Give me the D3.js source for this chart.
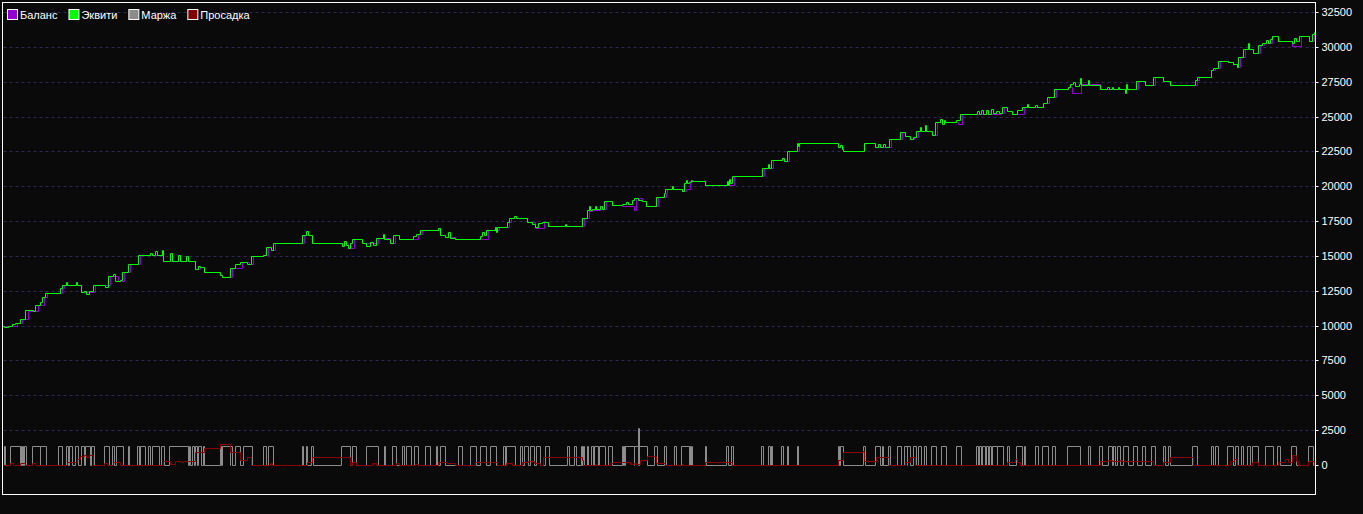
<!DOCTYPE html>
<html>
<head>
<meta charset="utf-8">
<script src="https://cdn.jsdelivr.net/npm/d3@7"></script>
<style>
    body { margin: 0; background: #0a0a0a; }
    text { font-family: "Liberation Sans", Arial, sans-serif; font-size: 11px; fill: #fff; }
</style>
</head>
<body>
<div id="chart"></div>
<script>
// series names for the legend
const seriesNames = ["Баланс", "Эквити", "Маржа", "Просадка"];

// y axis tick labels
const yTicks = [0, 2500, 5000, 7500, 10000, 12500, 15000, 17500, 20000, 22500, 25000, 27500, 30000, 32500];

// equity: [bar, value], step after
const equity = [
    [0,10000],[4,9900],[8,9950],[12,10100],[15,10190],[20,10470],[25,11120],[33,11050],[35,11480],[40,11700],
    [42,12050],[45,12340],[60,12700],[62,12910],[66,13100],[67,12910],[76,13130],[77,12910],[81,12410],[84,12500],
    [86,12300],[89,12450],[93,12910],[105,12800],[108,13560],[113,13700],[115,13200],[120,13300],[122,13850],[128,14420],
    [138,15070],[150,15200],[152,15070],[155,15350],[157,15070],[162,15420],[163,14630],[170,15200],[172,14630],[178,15100],
    [180,14630],[186,15000],[188,14630],[195,14060],[198,14300],[200,14200],[204,13850],[220,13630],[222,13490],[230,14130],
    [235,14400],[240,14560],[247,14420],[251,14990],[263,15070],[266,15640],[271,15420],[273,15930],[302,16500],[306,16790],
    [308,16500],[312,15930],[342,15700],[344,16100],[346,15800],[348,15600],[350,15900],[352,16210],[362,15930],[366,15700],
    [370,16000],[373,15800],[376,16280],[383,16570],[384,16210],[390,15930],[393,16500],[399,16210],[413,16400],[416,16600],
    [420,16860],[438,17000],[440,16500],[445,16360],[448,16700],[450,16300],[455,16210],[480,16400],[482,16700],[484,16500],
    [486,16860],[495,17100],[496,16700],[497,17070],[507,17430],[509,17720],[514,17850],[516,17720],[527,17430],[532,17300],
    [535,17100],[538,17350],[542,17430],[548,17150],[565,17300],[566,17150],[582,17720],[587,18300],[589,18600],[590,18300],
    [592,18400],[595,18600],[596,18400],[600,18550],[602,18350],[604,18940],[612,18650],[622,18720],[626,18900],[628,18700],
    [632,19000],[634,19150],[638,19000],[642,18940],[646,18580],[656,19230],[664,19510],[665,19800],[672,20020],[673,19800],
    [682,19660],[684,20230],[686,20450],[687,20230],[689,20300],[691,20450],[692,20370],[705,20090],[727,20400],[728,20100],
    [729,20500],[730,20200],[732,20730],[762,21310],[768,21600],[769,21310],[771,21880],[782,22020],[784,21810],[787,22530],
    [797,23100],[798,22900],[799,23100],[838,22810],[840,22950],[842,22700],[843,22530],[864,23100],[875,22810],[878,23000],
    [880,22810],[883,23050],[885,22810],[889,23390],[900,23890],[905,23600],[910,23390],[913,23530],[916,23960],[920,24270],
    [921,23960],[925,24400],[926,23960],[932,23700],[935,24610],[940,24800],[942,24450],[944,24750],[945,24610],[956,24750],
    [960,25180],[977,25400],[979,25180],[981,25500],[983,25200],[986,25450],[988,25180],[991,25550],[993,25250],[996,25400],
    [999,25250],[1002,25680],[1007,25400],[1012,25180],[1017,25470],[1022,25680],[1027,25900],[1028,25680],[1035,25850],[1037,25680],
    [1043,25970],[1047,26400],[1054,26970],[1068,27120],[1070,27330],[1073,27500],[1075,27200],[1079,27330],[1080,27800],[1081,27260],
    [1088,27600],[1089,27260],[1100,26970],[1107,27100],[1109,26970],[1112,27100],[1113,26970],[1118,27100],[1119,26970],[1125,26700],
    [1126,27300],[1127,26970],[1136,27550],[1145,27260],[1153,27830],[1163,27550],[1170,27260],[1195,27620],[1197,27830],[1211,28340],
    [1213,28480],[1218,28980],[1228,28910],[1233,28770],[1237,28550],[1238,29270],[1243,29840],[1248,30270],[1249,29840],[1253,29560],
    [1258,30130],[1262,30270],[1266,30500],[1268,30270],[1270,30560],[1272,30780],[1278,30420],[1292,30300],[1294,30600],[1296,30400],
    [1299,30780],[1309,30420],[1312,30920],[1314,31060]
];

// balance: [bar, value], step after
const balance = [
    [0,10000],[17,10190],[22,10470],[28,11050],[38,11480],[44,12050],[47,12340],[62,12700],[64,12910],[81,12410],
    [95,12910],[110,13560],[118,13200],[124,13850],[130,14420],[140,15070],[163,14630],[195,14060],[200,14200],[204,13850],
    [220,13630],[222,13490],[232,14130],[242,14560],[249,14420],[253,14990],[263,15070],[268,15640],[271,15420],[275,15930],
    [304,16500],[312,15930],[348,15600],[354,16210],[362,15930],[378,16280],[390,15930],[395,16500],[399,16210],[418,16600],
    [422,16860],[440,16500],[445,16360],[455,16210],[488,16860],[499,17070],[509,17430],[511,17720],[527,17430],[535,17000],
    [544,17430],[548,17150],[584,17720],[589,18200],[592,18300],[600,18350],[606,18940],[612,18650],[622,18550],[634,18300],
    [636,19150],[642,18940],[646,18580],[658,19230],[666,19510],[667,19800],[682,19660],[686,19800],[690,20370],[705,20090],
    [734,20730],[764,21310],[773,21880],[782,22020],[784,21810],[789,22530],[799,23100],[838,22810],[843,22530],[864,23100],
    [875,22810],[891,23390],[902,23890],[905,23600],[910,23390],[914,23530],[918,23960],[932,23700],[937,24610],[945,24610],
    [958,24450],[962,25180],[1000,25250],[1004,25680],[1007,25400],[1012,25180],[1024,25680],[1043,25970],[1049,26400],[1056,26970],
    [1068,27120],[1072,26690],[1081,27330],[1100,26970],[1138,27550],[1145,27260],[1155,27830],[1163,27550],[1170,27260],[1197,27620],
    [1199,27830],[1211,28340],[1215,28480],[1220,28980],[1228,28910],[1233,28770],[1237,28550],[1240,29270],[1245,29840],[1253,29560],
    [1260,30130],[1264,30270],[1272,30780],[1278,30420],[1292,30060],[1301,30780],[1309,30420],[1314,30920]
];

// margin: [open bar, close bar, value]
const marginTrades = [
    [4,5,1350],[10,20,1350],[20,21,1350],[22,23,1350],[24,26,1350],[32,40,1350],[40,46,1350],[58,62,1350],[66,68,1350],[69,72,1350],
    [75,78,1350],[81,84,1350],[85,90,1350],[91,94,1350],[104,109,1350],[112,114,1350],[116,123,1350],[128,129,1350],[137,139,1350],[140,145,1350],
    [148,150,1350],[152,159,1350],[161,164,1350],[169,188,1350],[189,190,1350],[192,194,1350],[195,197,1350],[198,201,1350],[203,204,1350],[220,221,1350],
    [222,230,1350],[230,232,1350],[235,240,1350],[243,252,1350],[263,266,1350],[268,273,1350],[302,303,1350],[306,307,1350],[311,313,1350],[341,350,1350],
    [352,356,1350],[366,378,1350],[384,385,1350],[392,396,1350],[402,404,1350],[406,411,1350],[414,418,1350],[425,430,1350],[436,437,1350],[440,445,1350],
    [458,462,1350],[470,476,1350],[480,486,1350],[490,496,1350],[503,505,1350],[506,515,1350],[520,522,1350],[524,528,1350],[530,534,1350],[536,540,1350],
    [545,549,1350],[567,569,1350],[574,576,1350],[581,582,1350],[583,584,1350],[587,588,1350],[591,593,1350],[594,598,1350],[599,605,1350],[608,612,1350],
    [622,623,1350],[624,625,1350],[625,634,1350],[634,638,1350],[638,639,2650],[639,647,1350],[654,657,1350],[664,666,1350],[674,676,1350],[681,689,1350],
    [689,690,1350],[691,692,1350],[705,706,1350],[726,728,1350],[731,733,1350],[761,763,1350],[768,770,1350],[771,772,1350],[781,783,1350],[787,788,1350],
    [797,798,1350],[838,839,1350],[840,843,1350],[863,865,1350],[875,880,1350],[882,883,1350],[888,890,1350],[897,901,1350],[904,907,1350],[907,910,1350],
    [913,916,1350],[918,921,1350],[924,926,1350],[931,936,1350],[941,946,1350],[956,961,1350],[976,978,1350],[979,981,1350],[982,985,1350],[986,988,1350],
    [989,991,1350],[992,997,1350],[997,1003,1350],[1007,1009,1350],[1016,1022,1350],[1024,1025,1350],[1035,1038,1350],[1042,1048,1350],[1052,1055,1350],[1067,1080,1350],
    [1088,1090,1350],[1099,1102,1350],[1108,1112,1350],[1113,1115,1350],[1117,1120,1350],[1123,1128,1350],[1133,1137,1350],[1142,1145,1350],[1151,1155,1350],[1163,1165,1350],
    [1168,1170,1350],[1192,1197,1350],[1211,1213,1350],[1215,1218,1350],[1227,1233,1350],[1235,1238,1350],[1241,1243,1350],[1247,1250,1350],[1252,1258,1350],[1265,1273,1350],
    [1277,1280,1350],[1291,1296,1350],[1308,1313,1350]
];

// drawdown: [bar, value], step after
const drawdown = [
    [0,0],[10,170],[13,0],[20,120],[25,0],[32,140],[35,0],[67,240],[77,430],[80,650],[84,720],[86,600],[89,720],[93,0],
    [104,120],[107,0],[113,240],[120,0],[163,280],[170,80],[175,260],[181,180],[183,260],[188,300],[195,950],[200,930],
    [204,1200],[220,1500],[230,930],[240,360],[247,600],[251,0],[270,150],[272,0],[307,240],[312,550],[342,600],[350,0],
    [352,200],[356,0],[372,120],[376,0],[396,150],[399,0],[415,100],[418,0],[438,200],[447,120],[455,0],[475,250],
    [483,180],[490,250],[497,0],[506,150],[512,0],[522,200],[528,280],[534,150],[540,0],[543,550],[582,360],[583,0],
    [595,60],[596,0],[610,120],[613,240],[622,180],[630,80],[634,150],[636,60],[640,360],[647,640],[656,120],[665,0],
    [682,80],[683,0],[705,240],[727,180],[732,0],[838,360],[843,930],[863,1000],[864,290],[876,550],[889,0],[905,240],
    [910,550],[915,0],[1007,240],[1015,450],[1017,240],[1020,0],[1100,290],[1108,330],[1112,290],[1120,350],[1122,290],[1153,0],
    [1163,240],[1170,550],[1193,0],[1230,290],[1234,400],[1237,0],[1252,240],[1258,0],[1278,240],[1285,450],[1288,240],[1292,720],
    [1296,300],[1298,0],[1308,280],[1314,0]
];

// chart size
const width = 1363, height = 514;
const plot = { left: 2.5, top: 2.5, right: 1315.5, bottom: 494.5 };

const svg = d3.select("#chart")
    .append("svg")
    .attr("width", width)
    .attr("height", height);

svg.append("rect")
    .attr("width", width)
    .attr("height", height)
    .attr("fill", "#0a0a0a");

// scales
const x = d3.scaleLinear().domain([0, 1315]).range([0, 1315]);
const y = d3.scaleLinear().domain([0, 32500]).range([465, 12]);

// snap to pixel centres so lines stay 1px wide
const px = v => Math.round(x(v)) + 0.5;
const py = v => Math.round(y(v)) + 0.5;

// clip to the plot frame
svg.append("clipPath").attr("id", "clip")
    .append("rect")
    .attr("x", plot.left + 0.5)
    .attr("y", plot.top + 0.5)
    .attr("width", plot.right - plot.left - 1)
    .attr("height", plot.bottom - plot.top - 1);

// dashed grid lines
svg.append("g")
    .selectAll("line")
    .data(yTicks.filter(d => d > 0))
    .enter().append("line")
    .attr("x1", plot.left + 1)
    .attr("x2", plot.right)
    .attr("y1", d => py(d))
    .attr("y2", d => py(d))
    .attr("stroke", "#2a2a55")
    .attr("stroke-dasharray", "3,3");

const g = svg.append("g").attr("clip-path", "url(#clip)");

const stepLine = d3.line()
    .x(d => px(d[0]))
    .y(d => py(d[1]))
    .curve(d3.curveStepAfter);

// margin outline
const marginPoints = [[0, 0]];
marginTrades.forEach(m => {
    marginPoints.push([m[0], 0], [m[0], m[2]], [m[1], m[2]], [m[1], 0]);
});
marginPoints.push([1315, 0]);

g.append("path")
    .datum(marginPoints)
    .attr("d", d3.line().x(d => px(d[0])).y(d => py(d[1])))
    .attr("fill", "none")
    .attr("stroke", "#8c8c8c");

// drawdown
g.append("path")
    .datum(drawdown.concat([[1315, 0]]))
    .attr("d", stepLine)
    .attr("fill", "none")
    .attr("stroke", "#8b0000");

// balance
g.append("path")
    .datum(balance)
    .attr("d", stepLine)
    .attr("fill", "none")
    .attr("stroke", "#9400d3");

// equity
g.append("path")
    .datum(equity)
    .attr("d", stepLine)
    .attr("fill", "none")
    .attr("stroke", "#00ff00");

// frame
svg.append("rect")
    .attr("x", plot.left)
    .attr("y", plot.top)
    .attr("width", plot.right - plot.left)
    .attr("height", plot.bottom - plot.top)
    .attr("fill", "none")
    .attr("stroke", "#ffffff");

// right axis
const axis = svg.append("g")
    .attr("transform", `translate(${plot.right},0.5)`)
    .call(d3.axisRight(y).tickValues(yTicks).tickSize(3).tickPadding(3).tickFormat(d => d).offset(0));
axis.select(".domain").remove();
axis.selectAll(".tick").attr("transform", d => `translate(0,${Math.round(y(d))})`);
axis.selectAll("line").attr("stroke", "#ffffff");
axis.selectAll("text")
    .attr("fill", "#ffffff")
    .style("font-family", "'Liberation Sans', Arial, sans-serif")
    .style("font-size", "11px");

// legend
const legendColors = ["#9400d3", "#00ff00", "#8c8c8c", "#800000"];
let lx = 7;
seriesNames.forEach((name, i) => {
    svg.append("rect")
        .attr("x", lx + 0.5)
        .attr("y", 9.5)
        .attr("width", 10)
        .attr("height", 10)
        .attr("fill", legendColors[i])
        .attr("stroke", "#ffffff");
    const t = svg.append("text")
        .attr("x", lx + 13)
        .attr("y", 18.5)
        .text(name);
    lx += 13 + t.node().getComputedTextLength() + 11;
});
</script>
</body>
</html>
